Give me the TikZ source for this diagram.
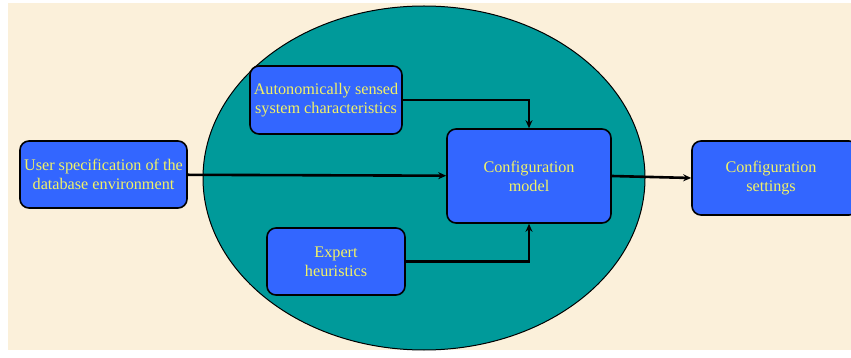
\documentclass[tikz,border=0pt]{standalone}
\usepackage{fontspec}
\setmainfont{Liberation Serif}
\usetikzlibrary{arrows.meta}

\definecolor{paper}{HTML}{FBF0DA}
\definecolor{teal}{HTML}{009A9A}
\definecolor{boxblue}{HTML}{3366FF}
\definecolor{txtyellow}{HTML}{F2F266}

\begin{document}
\begin{tikzpicture}[
		x=1pt,y=-1pt,
		block/.style={draw,line width=1.6pt,fill=boxblue,rounded corners=9pt,align=center,
			text=txtyellow,font=\fontsize{16.2}{19}\selectfont,inner sep=1pt},
		flow/.style={line width=2.6pt,-{Stealth[length=8pt,width=7pt]}}
		]
		
		% Page and background
		\useasboundingbox (0,0) rectangle (851,358);
		\fill[paper] (8,3) rectangle (851,350);
		
		% Enclosing ellipse
		\draw[fill=teal,line width=1pt] (424,178) ellipse [x radius=221,y radius=172];
		
		% Blocks
		\node[block,minimum width=167pt,minimum height=67pt] (user) at (103.5,174.5) {User specification of the\\database environment};
		\node[block,minimum width=152pt,minimum height=68pt] (sensed) at (326,100) {Autonomically sensed\\system characteristics};
		\node[block,minimum width=164pt,minimum height=94pt] (model) at (529,176) {Configuration\\model};
		\node[block,minimum width=138pt,minimum height=67pt] (expert) at (336,261.5) {Expert\\heuristics};
		\node[block,minimum width=166pt,minimum height=74pt,text width=150pt] (settings) at (775,178) {\hspace*{-8pt}Configuration\\\hspace*{-8pt}settings};
		
		% Connectors
		\draw[flow] (user) -- (model);
		\draw[flow] (sensed.east) -| (model.north);
		\draw[flow] (expert.east) -| (model.south);
		\draw[flow] (model.east) -- (settings.west);
		
	\end{tikzpicture}
\end{document}
